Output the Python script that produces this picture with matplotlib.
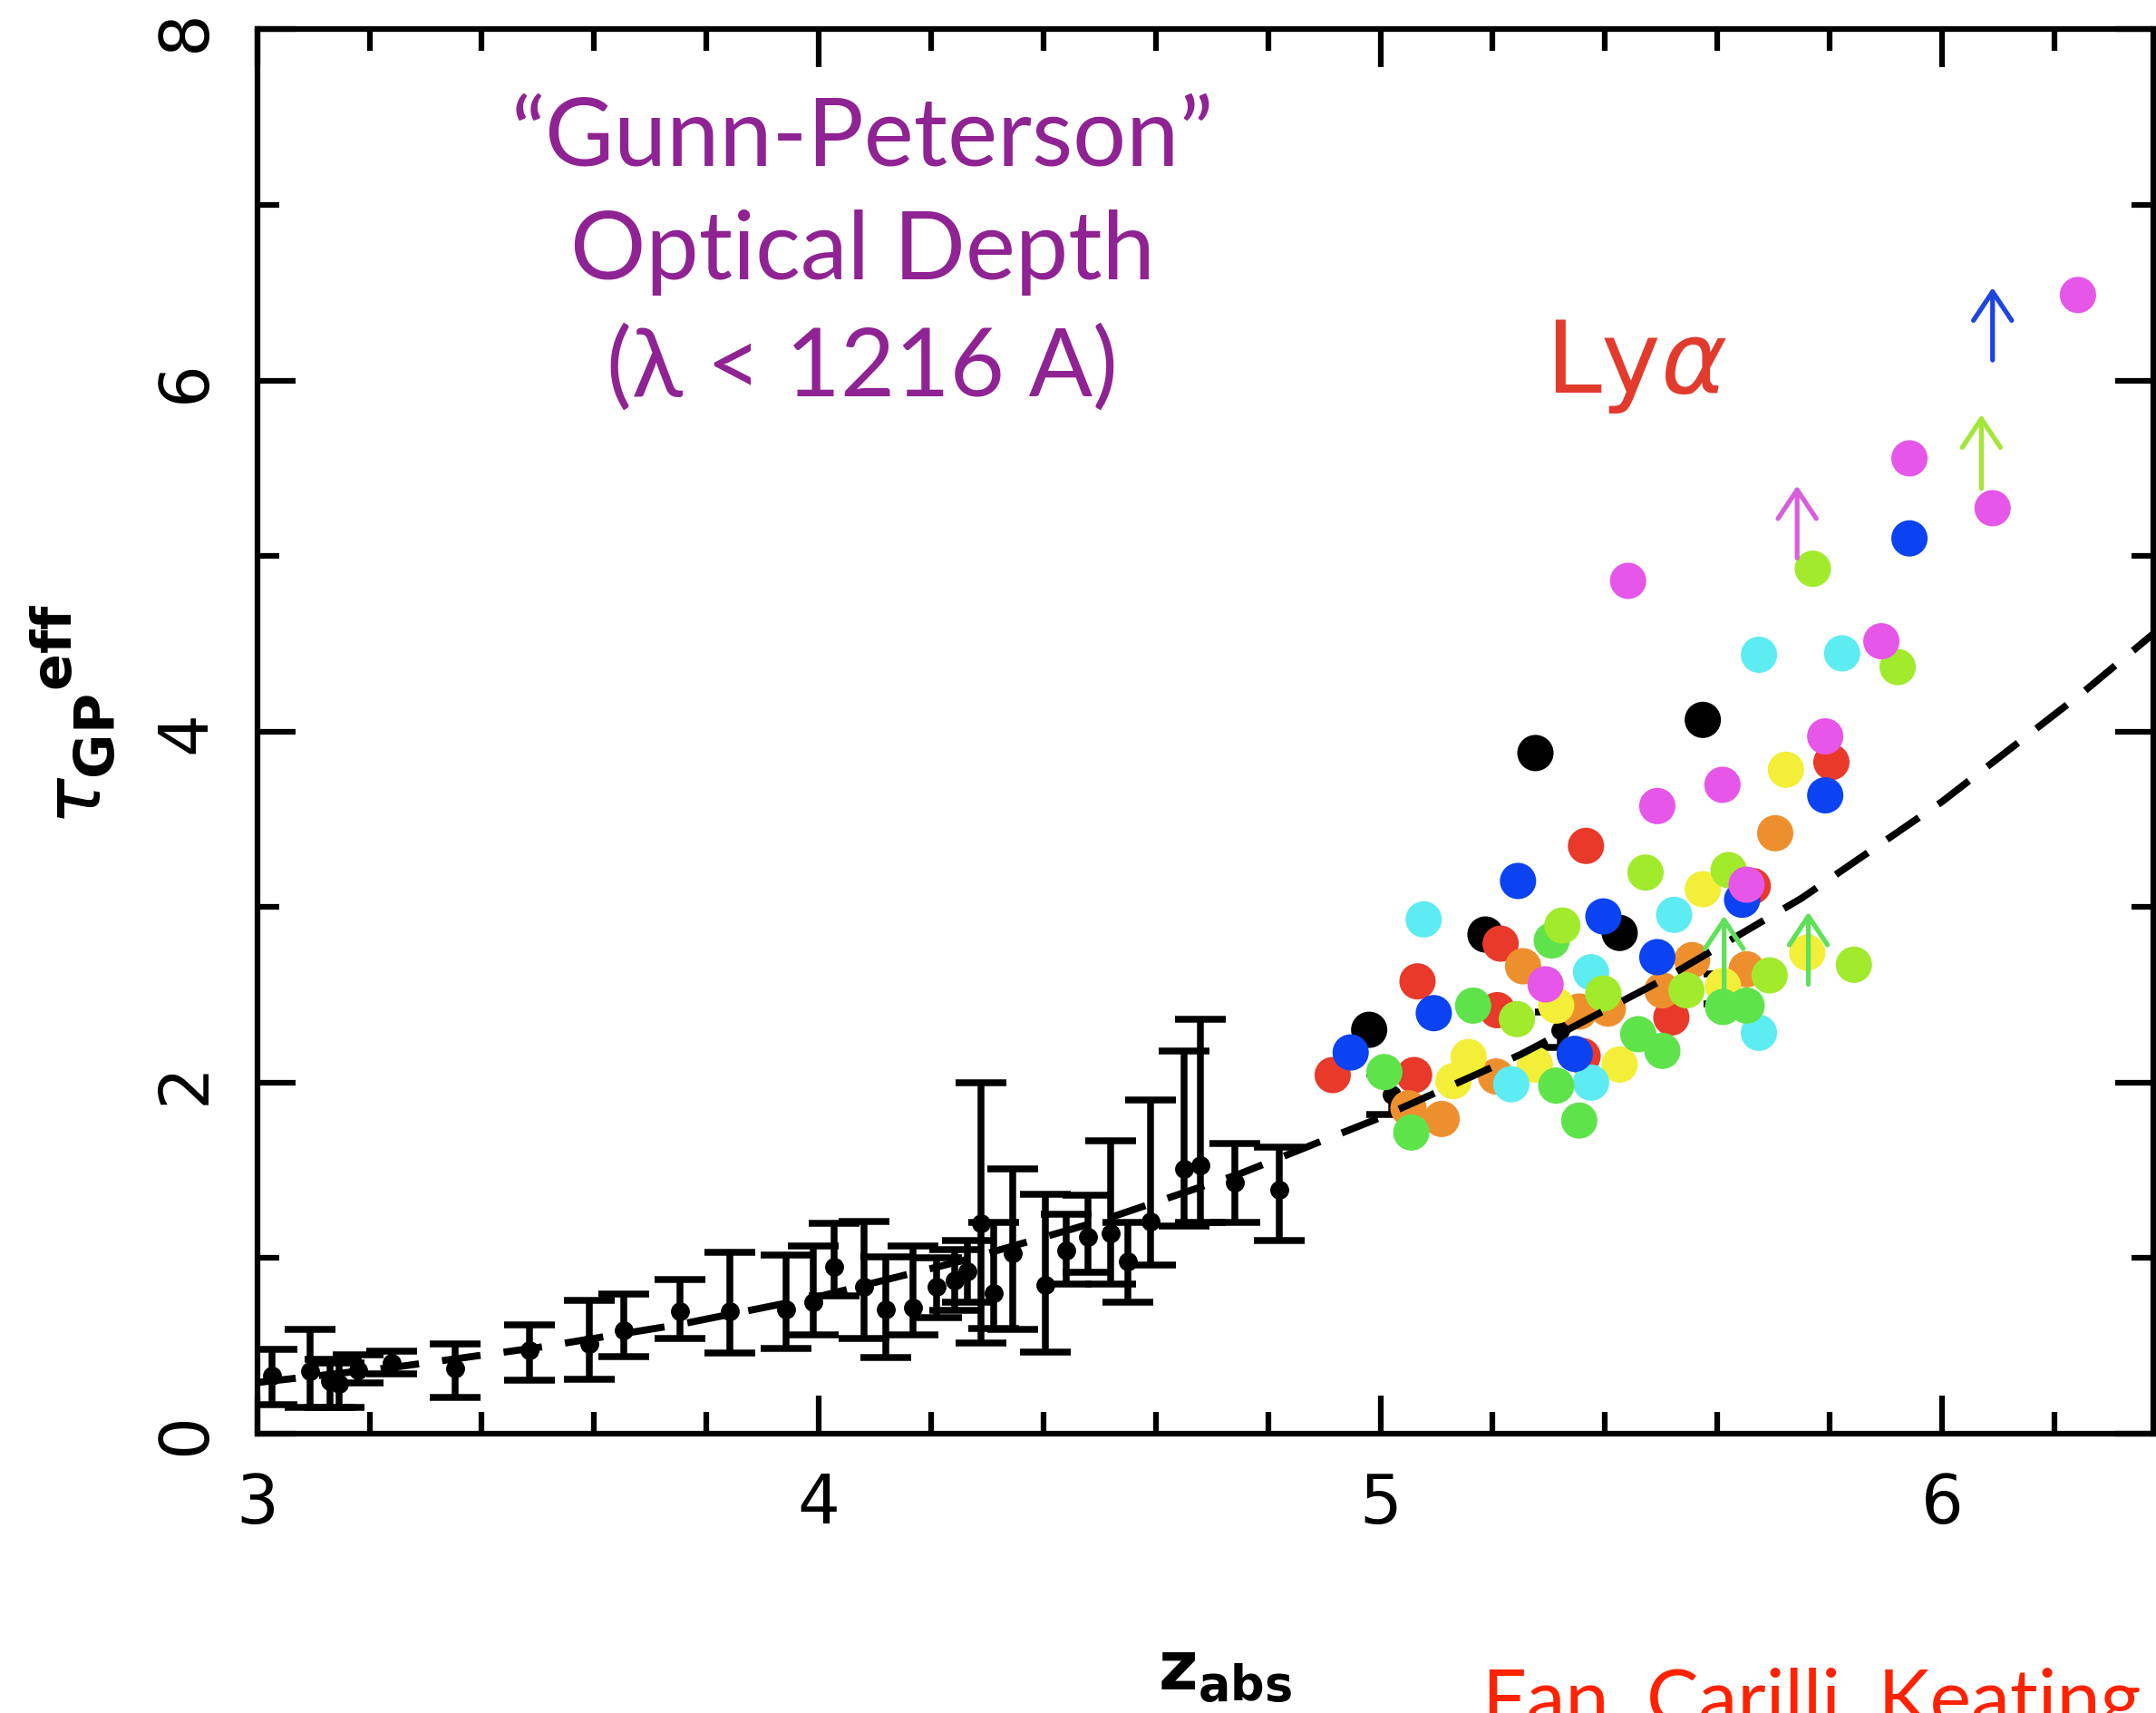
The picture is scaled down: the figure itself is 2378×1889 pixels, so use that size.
import matplotlib
matplotlib.use('Agg')
import matplotlib.pyplot as plt
import numpy as np

# low-z black points with error bars (z, tau, lower end, upper end)
z_lo = [3.027, 3.094, 3.129, 3.145, 3.18, 3.24, 3.352, 3.484, 3.591, 3.653, 3.753, 3.842,
        3.941, 3.990, 4.027, 4.081, 4.119, 4.167, 4.210, 4.242, 4.264, 4.288, 4.312, 4.345,
        4.404, 4.44, 4.48, 4.52, 4.55, 4.59, 4.65, 4.68, 4.74, 4.82, 5.02, 5.32, 5.62]
tau_lo = [0.33, 0.354, 0.30, 0.285, 0.36, 0.40, 0.371, 0.474, 0.509, 0.586, 0.698, 0.698,
          0.707, 0.750, 0.948, 0.836, 0.707, 0.716, 0.836, 0.871, 0.922, 1.198, 0.80, 1.026,
          0.845, 1.04, 1.12, 1.14, 0.98, 1.21, 1.51, 1.53, 1.43, 1.39, 1.93, 2.30, 2.53]
tau_lo_min = [0.165, 0.147, 0.15, 0.15, 0.29, 0.34, 0.207, 0.302, 0.311, 0.44, 0.543, 0.457,
              0.483, 0.561, 0.785, 0.543, 0.431, 0.562, 0.66, 0.70, 0.75, 0.517, 0.60, 0.595,
              0.466, 0.85, 0.92, 0.85, 0.75, 0.96, 1.18, 1.20, 1.20, 1.10, 1.82, 2.20, 2.45]
tau_lo_max = [0.48, 0.595, 0.42, 0.40, 0.45, 0.47, 0.509, 0.621, 0.759, 0.793, 0.879, 1.034,
              1.017, 1.069, 1.198, 1.207, 1.008, 1.069, 1.0, 1.05, 1.10, 1.999, 1.2, 1.508,
              1.362, 1.25, 1.36, 1.67, 1.2, 1.90, 2.18, 2.36, 1.65, 1.63, 2.05, 2.40, 2.62]

# dashed model curve
z_fit = [3.0, 3.25, 3.5, 3.75, 4.0, 4.25, 4.5, 4.75, 5.0, 5.25, 5.5, 5.75, 6.0, 6.25, 6.4]
tau_fit = [0.29, 0.38, 0.49, 0.62, 0.78, 0.98, 1.21, 1.48, 1.80, 2.16, 2.58, 3.05, 3.60, 4.22, 4.62]

# high-z quasar sightlines, one list per colour
z_black = [5.276, 5.574, 5.426, 5.187, 4.980]
t_black = [3.877, 4.066, 2.852, 2.843, 2.300]
z_red = [5.366, 5.214, 5.066, 5.208, 4.915, 5.060, 5.36, 5.518, 5.803, 5.663]
t_red = [3.348, 2.791, 2.576, 2.412, 2.042, 2.042, 2.15, 2.370, 3.825, 3.119]
z_orange = [5.254, 5.405, 5.354, 5.502, 5.555, 5.206, 5.050, 5.109, 5.703, 5.652]
t_orange = [2.662, 2.421, 2.404, 2.525, 2.697, 2.034, 1.853, 1.792, 3.420, 2.645]
z_yellow = [5.574, 5.313, 5.157, 5.130, 5.275, 5.426, 5.722, 5.760, 5.61]
t_yellow = [3.101, 2.438, 2.145, 2.008, 2.102, 2.102, 3.782, 2.740, 2.55]
z_cyan = [5.077, 5.523, 5.375, 5.233, 5.375, 5.674, 5.822, 5.674]
t_cyan = [2.929, 2.955, 2.628, 1.990, 1.999, 4.437, 4.445, 2.283]
z_green = [5.305, 5.165, 5.61, 5.007, 5.459, 5.502, 5.313, 5.354, 5.055, 5.652]
t_green = [2.809, 2.438, 2.43, 2.059, 2.275, 2.180, 1.982, 1.783, 1.715, 2.438]
z_lime = [5.472, 5.62, 5.324, 5.243, 5.397, 5.545, 5.921, 5.843, 5.693, 5.770]
t_lime = [3.196, 3.21, 2.894, 2.361, 2.507, 2.525, 4.367, 2.671, 2.610, 4.927]
z_blue = [5.245, 5.397, 5.493, 5.095, 4.947, 5.346, 5.792, 5.644, 5.942]
t_blue = [3.148, 2.946, 2.714, 2.395, 2.171, 2.163, 3.636, 3.041, 5.100]
z_magenta = [5.609, 5.493, 5.294, 5.792, 5.892, 5.652, 5.942, 6.090, 5.441, 6.242]
t_magenta = [3.696, 3.575, 2.559, 3.972, 4.514, 3.127, 5.556, 5.272, 4.858, 6.487]

# lower limits (arrows): z, start, end, colour
z_arrow = [6.09, 6.07, 5.742, 5.612, 5.762]
t_arrow_from = [6.116, 5.384, 4.988, 2.52, 2.559]
t_arrow_to = [6.53, 5.806, 5.401, 2.95, 2.972]
arrow_colors = ['#1f45e0', '#a5e63a', '#d660dc', '#5fe05a', '#5fe05a']

groups = [
    (z_black, t_black, '#000000'),
    (z_red, t_red, '#e8392a'),
    (z_orange, t_orange, '#ee8f2e'),
    (z_yellow, t_yellow, '#f3ee38'),
    (z_cyan, t_cyan, '#5decf2'),
    (z_blue, t_blue, '#0b42f2'),
    (z_green, t_green, '#5ee44a'),
    (z_lime, t_lime, '#a2ea2c'),
    (z_magenta, t_magenta, '#e656e8'),
]

fig = plt.figure(figsize=(23.78, 18.90), dpi=100)
ax = fig.add_axes([0.1193, 0.1631, 0.8794, 0.8192])

# black error-bar points
t = np.array(tau_lo)
yerr = [t - np.array(tau_lo_min), np.array(tau_lo_max) - t]
ax.errorbar(z_lo, tau_lo, yerr=yerr, fmt='o', color='black', ms=14,
            elinewidth=5.4, capsize=20, capthick=5.4, zorder=2)

for zs, ts, c in groups:
    ax.scatter(zs, ts, s=830, color=c, edgecolors='none', zorder=3)

ax.plot(z_fit, tau_fit, color='black', lw=5.6, ls=(0, (5.5, 3.3)), zorder=4)

for z, t0, t1, c in zip(z_arrow, t_arrow_from, t_arrow_to, arrow_colors):
    ax.annotate('', xy=(z, t1), xytext=(z, t0),
                arrowprops=dict(arrowstyle='->,head_length=0.24,head_width=0.16', color=c,
                                lw=3.8, mutation_scale=95, shrinkA=0, shrinkB=0), zorder=5)

ax.set_xlim(3, 6.376)
ax.set_ylim(0, 8)
ax.set_xticks([3, 4, 5, 6])
ax.set_xticks(np.arange(3.2, 6.4, 0.2), minor=True)
ax.set_yticks([0, 2, 4, 6, 8])
ax.set_yticks([1, 3, 5, 7], minor=True)
for s in ax.spines.values():
    s.set_linewidth(4.5)
ax.tick_params(which='both', direction='in', top=True, right=True, width=4.5)
ax.tick_params(which='major', length=30)
ax.tick_params(which='minor', length=17)
ax.tick_params(axis='x', labelsize=53, pad=30)
ax.tick_params(axis='y', labelsize=53, pad=30)
for lab in ax.get_yticklabels():
    lab.set_rotation(90)
    lab.set_va('center')

fig.text(0.034, 0.583, r'$\tau_{\mathbf{GP}}{}^{\mathbf{eff}}$', fontsize=62,
         rotation=90, ha='center', va='center')
fig.text(0.568, 0.005, r'$\mathbf{z}_{\mathbf{abs}}$', fontsize=54,
         ha='center', va='bottom')

purple = '#8f2393'
ax_txt = dict(ha='center', va='baseline', color=purple, fontsize=75, family='Lato')
fig.text(0.400, 0.9037, '\u201cGunn-Peterson\u201d', **ax_txt)
fig.text(0.400, 0.837, 'Optical Depth', **ax_txt)
fig.text(0.400, 0.769, '(\u03bb < 1216 A)', **ax_txt)

fig.text(0.759, 0.771, r'Ly$\alpha$', ha='center', va='baseline', color='#e23b2e',
         fontsize=80)

fig.text(0.6875, -0.006, 'Fan, Carilli, Keating 2006', ha='left', va='baseline',
         color='#ff2200', fontsize=62, family='Lato')

fig.savefig('out.png', dpi=100)
